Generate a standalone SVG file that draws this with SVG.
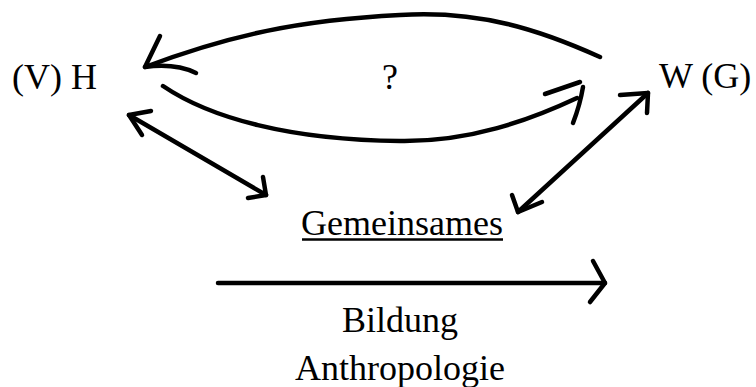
<svg xmlns="http://www.w3.org/2000/svg" width="756" height="387" viewBox="0 0 756 387">
<style>
  .t { font-family: "Liberation Serif", "Times New Roman", serif; font-size: 36px; fill: #000; }
  .c { fill: none; stroke: #000; stroke-width: 4.5; stroke-linecap: round; stroke-linejoin: round; }
</style>
<rect width="756" height="387" fill="#fff"/>
<g id="node-vh"><text class="t" x="12" y="89">(V) H</text></g>
<g id="node-wg"><text class="t" x="659" y="88">W (G)</text></g>
<g id="node-question"><text class="t" x="390" y="89" text-anchor="middle">?</text></g>
<g id="node-gemeinsames">
  <text class="t" x="402" y="235" text-anchor="middle">Gemeinsames</text>
  <line x1="302" y1="239.5" x2="503" y2="239.5" stroke="#000" stroke-width="2.5"/>
</g>
<g id="node-bildung">
  <text class="t" x="400" y="332" text-anchor="middle">Bildung</text>
  <text class="t" x="400" y="380" text-anchor="middle">Anthropologie</text>
</g>
<g id="connectors">
  <path class="c" d="M600,57 C540,30 480,10 400,15 C300,20 230,35 145,67"/>
  <path class="c" d="M160,36 L145,67 Q175,63 196,73"/>
  <path class="c" d="M163,86 C210,118 290,140 400,141 C470,142 530,120 577,98"/>
  <path class="c" d="M545,94 L580,82"/>
  <path class="c" d="M583,87 Q580,105 573,123"/>
  <path class="c" d="M129,115 L266,195"/>
  <path class="c" d="M151,111 L129,115 L142,135"/>
  <path class="c" d="M263,177 L266,195 L248,198"/>
  <path class="c" d="M648,93 L518,212"/>
  <path class="c" d="M620,95 L648,93 L647,113"/>
  <path class="c" d="M512,195 L518,212 L542,202"/>
  <path class="c" d="M218,283 L605,283" stroke-width="4"/>
  <path class="c" d="M593,261 L605,283 L590,302" stroke-width="4"/>
</g>
</svg>
